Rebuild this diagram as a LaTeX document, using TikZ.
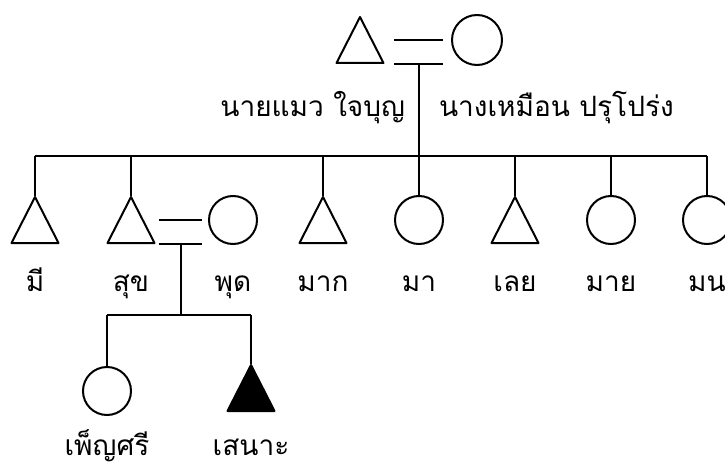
\documentclass[tikz,border=0pt]{standalone}
\usepackage{fontspec}
\newfontfamily\thaifont[Script=Thai]{Loma}

\begin{document}
\begin{tikzpicture}[x=1pt, y=1pt, node distance=96pt, line width=2pt,
                    font=\thaifont\fontsize{28}{32}\selectfont]
    \tikzset{
        tri/.style={minimum width=49pt, minimum height=48pt, inner sep=0pt, outer sep=0pt,
                    path picture={\draw[line join=round, fill=#1]
                        ([shift={(1pt,1pt)}]path picture bounding box.south west)
                        -- ([yshift=-1pt]path picture bounding box.north)
                        -- ([shift={(-1pt,1pt)}]path picture bounding box.south east) -- cycle;}},
        male/.style={tri=none},
        patient/.style={tri=black},
        female/.style={circle, draw, inner sep=0pt, minimum size=48pt},
        lbl/.style={anchor=base, inner sep=0pt}
    }
    \useasboundingbox (0,0) rectangle (725,-468);
    % parents
    \node[male] (father) at (360,-40) {};
    \node[female, minimum size=50pt] (mother) at (477,-40) {};
    \draw ([xshift=-8pt]mother.west) -- ++(-49,0);
    \draw ([xshift=-8pt]mother.west |- father.south) -- coordinate (cpl1) ++(-49,0);
    \node[lbl, anchor=base east] (lfather) at (406,-117) {นายแมว ใจบุญ};
    \node[lbl, anchor=base west] (lmother) at (438,-117) {นางเหมือน ปรุโปร่ง};
    % children
    \node[male] (mi) at (35,-220) {};
    \node[male,   right of=mi]   (suk)  {};
    \node[female] (phut) at (233,-220) {};
    \node[male,   right of=suk, node distance=192pt] (maak) {};
    \node[female, right of=maak] (maa)  {};
    \node[male,   right of=maa]  (loei) {};
    \node[female, right of=loei] (maai) {};
    \node[female, right of=maai] (mon)  {};
    \coordinate (sib) at (cpl1 |- 0,-156);
    \draw (cpl1) -- (sib);
    \draw (mi.north |- sib) -- (mon.north |- sib);
    \foreach \c in {mi, suk, maak, maa, loei, maai, mon}
        \draw (\c.north) -- (\c.north |- sib);
    \foreach \c/\t in {mi/มี, suk/สุข, phut/พุด, maak/มาก, maa/มา, loei/เลย, maai/มาย, mon/มน}
        \node[lbl] (l\c) at (\c |- 0,-291) {\t};
    % grandchildren
    \draw ([xshift=-6pt]phut.west) -- ++(-43,0);
    \draw ([xshift=-6pt]phut.west |- suk.south) -- coordinate (cpl2) ++(-43,0);
    \node[female] (phen) at (107,-391) {};
    \node[patient, right of=phen, node distance=144pt, yshift=3pt] (sanoh) {};
    \coordinate (kid) at (cpl2 |- 0,-315);
    \draw (cpl2) -- (kid);
    \draw (phen.north |- kid) -- (sanoh.north |- kid);
    \draw (phen.north) -- (phen.north |- kid);
    \draw (sanoh.north) -- (sanoh.north |- kid);
    \node[lbl] (lphen)  at (phen |- 0,-455)  {เพ็ญศรี};
    \node[lbl] (lsanoh) at (sanoh |- 0,-455) {เสนาะ};
\end{tikzpicture}
\end{document}
